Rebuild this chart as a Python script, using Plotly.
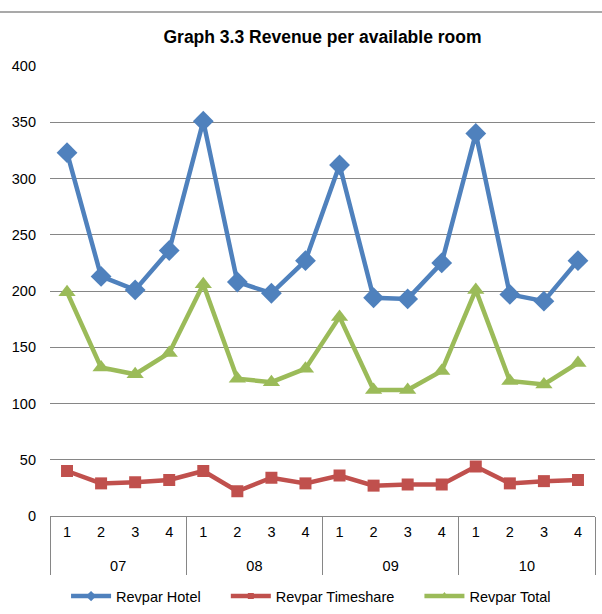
import plotly.graph_objects as go

years = ["07"] * 4 + ["08"] * 4 + ["09"] * 4 + ["10"] * 4
quarters = ["1", "2", "3", "4"] * 4

revpar_hotel = [323, 213, 201, 236, 351, 208, 198, 227, 312, 194, 193, 225, 340, 197, 191, 227]
revpar_timeshare = [40, 29, 30, 32, 40, 22, 34, 29, 36, 27, 28, 28, 44, 29, 31, 32]
revpar_total = [199, 132, 126, 145, 206, 122, 119, 131, 177, 112, 112, 129, 201, 120, 117, 136]

FONT = "Liberation Sans, Arial, sans-serif"
PAD = "\u00a0" * 5  # extra room between legend entries

# push the year row a bit further below the quarter row, like the Excel original
year_labels = ["<br>" + y for y in years]
x_cats = [year_labels, quarters]

series = [
    ("Revpar Hotel" + PAD, revpar_hotel, "#4F81BD", "diamond", 16, 8),
    ("Revpar Timeshare" + PAD, revpar_timeshare, "#C0504D", "square", 12, 6),
    ("Revpar Total", revpar_total, "#9BBB59", "triangle-up", 15, 8),
]

fig = go.Figure()
for name, values, color, symbol, size, legend_size in series:
    # line + small marker (this is what the legend shows)
    fig.add_scatter(
        x=x_cats, y=values, name=name, legendgroup=name,
        mode="lines+markers",
        line=dict(color=color, width=4.5),
        marker=dict(symbol=symbol, size=legend_size, color=color),
    )
    # full size markers on the chart
    fig.add_scatter(
        x=x_cats, y=values, name=name, legendgroup=name, showlegend=False,
        mode="markers",
        marker=dict(symbol=symbol, size=size, color=color),
    )

fig.update_layout(
    width=602,
    height=614,
    paper_bgcolor="white",
    plot_bgcolor="white",
    font=dict(family=FONT, size=14.5, color="black"),
    title=dict(
        text="<b>Graph 3.3 Revenue per available room</b>",
        x=0.5, xanchor="center", xref="paper",
        y=0.94, yref="container", yanchor="middle",
        font=dict(family=FONT, size=17.5, color="black"),
    ),
    margin=dict(l=50, r=7, t=66, b=98),
    showlegend=True,
    legend=dict(
        orientation="h",
        x=0.479, xanchor="center",
        y=0.029, yref="container", yanchor="middle",
        font=dict(family=FONT, size=14.5),
        itemwidth=40,
    ),
    shapes=[
        dict(type="line", xref="paper", yref="paper", x0=-0.2, x1=1.2, y0=1.12, y1=1.12,
             line=dict(color="#8C8C8C", width=1.5), layer="above"),
    ],
)
fig.update_yaxes(
    range=[0, 400],
    dtick=50,
    showgrid=True,
    gridcolor="#868686",
    gridwidth=1,
    zeroline=False,
    showline=False,
    ticks="",
    ticklabelstandoff=13,
    automargin=False,
)
fig.update_xaxes(
    type="multicategory",
    range=[-0.5, 15.5],
    showline=True,
    linecolor="#868686",
    linewidth=1,
    showgrid=False,
    showdividers=True,
    dividercolor="#868686",
    dividerwidth=1,
    ticks="",
    ticklabelstandoff=3,
    automargin=False,
)

fig.write_html(
    "out.html",
    config={"displayModeBar": False},
    post_script="document.body.style.margin='0';",
)
